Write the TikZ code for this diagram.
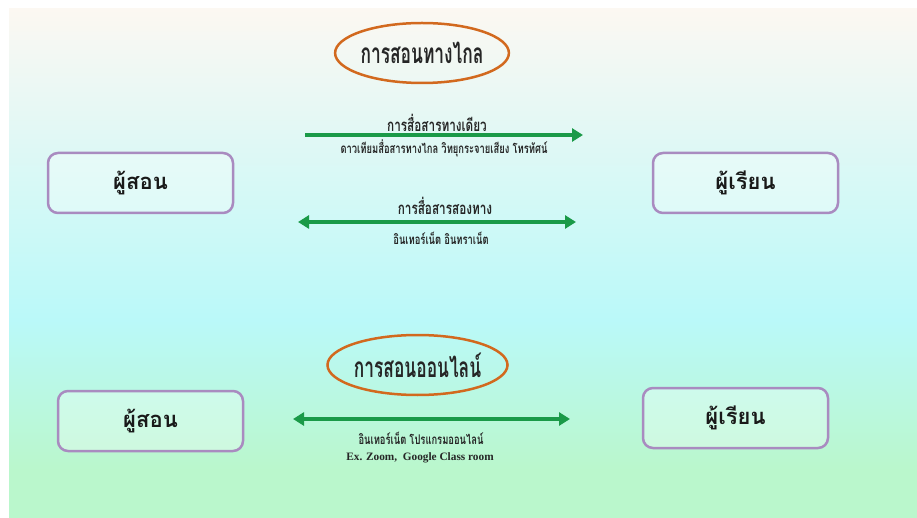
\documentclass[tikz,border=0pt]{standalone}
\usepackage{fontspec}
\usetikzlibrary{arrows.meta,shapes.geometric}
\setmainfont{Liberation Serif}
\newfontfamily\thai[Script=Thai]{Loma}
\newfontfamily\thaicond[Script=Thai,FakeStretch=0.70]{Loma}
\newfontfamily\thaicondx[Script=Thai,FakeStretch=0.62]{Loma}
\definecolor{bgtop}{HTML}{FCF8F2}
\definecolor{bgmid}{HTML}{BAF9F9}
\definecolor{bgbot}{HTML}{BAF7CC}
\definecolor{boxline}{HTML}{A98BC0}
\definecolor{ovalline}{HTML}{D2691E}
\definecolor{arrowgreen}{HTML}{1A9A48}
\tikzset{
  actor/.style={draw=boxline, line width=2.5pt, rounded corners=10pt, fill=white, fill opacity=0.3, text opacity=1, minimum width=185pt, minimum height=60pt, font=\thai\bfseries\fontsize{22}{24}\selectfont, text=black!90},
  oval/.style={ellipse, draw=ovalline, line width=2.5pt, minimum width=148pt, minimum height=60pt, inner sep=0pt, font=\thaicondx\bfseries\fontsize{28}{30}\selectfont, text=black!85},
  biglabel/.style={font=\thaicond\bfseries\fontsize{16.8}{18}\selectfont, text=black!85, inner sep=0pt},
  smalllabel/.style={font=\thaicond\bfseries\fontsize{13.4}{15}\selectfont, text=black!85, inner sep=0pt},
  conn/.style={draw=arrowgreen, line width=3.5pt, -{Triangle[length=11pt,width=13pt]}},
  conn2/.style={draw=arrowgreen, line width=3.5pt, {Triangle[length=11pt,width=13pt]}-{Triangle[length=11pt,width=13pt]}}
}
\begin{document}
\begin{tikzpicture}[x=1pt,y=-1pt]
\useasboundingbox (0,0) rectangle (917,518);
\fill[white] (0,0) rectangle (917,518);
\shade[top color=bgtop, bottom color=bgmid] (9,9) rectangle (917,320);
\shade[top color=bgmid, bottom color=bgbot] (9,319.5) rectangle (917,470);
\fill[bgbot] (9,469.5) rectangle (917,518);

\node[oval] (o1) at (422,53) {การสอนทางไกล};
\node[oval] (o2) at (417.5,365) {การสอนออนไลน์};

\node[actor] (t1) at (140.5,183) {ผู้สอน};
\node[actor] (s1) at (745.5,183) {ผู้เรียน};
\node[actor] (t2) at (150.5,421) {ผู้สอน};
\node[actor] (s2) at (735.5,418) {ผู้เรียน};

\coordinate (a1s) at (305,135);
\coordinate (a1e) at (583,135);
\coordinate (a2s) at (298,222);
\coordinate (a2e) at (576,222);
\coordinate (a3s) at (293,419);
\coordinate (a3e) at (570,419);
\draw[conn] (a1s) -- (a1e);
\draw[conn2] (a2s) -- (a2e);
\draw[conn2] (a3s) -- (a3e);

\node[biglabel] (l1) at (437,123) {การสื่อสารทางเดียว};
\node[smalllabel] (l1b) at (444,148) {ดาวเทียมสื่อสารทางไกล วิทยุกระจายเสียง โทรทัศน์};
\node[biglabel] (l2) at (445,206) {การสื่อสารสองทาง};
\node[smalllabel] (l2b) at (441,238) {อินเทอร์เน็ต อินทราเน็ต};
\node[smalllabel] (l3b) at (421,438) {อินเทอร์เน็ต โปรแกรมออนไลน์};
\node[font=\bfseries\fontsize{11.3}{13}\selectfont, text=black!85, inner sep=0pt] (l3c) at (420,457.5) {Ex. Zoom,\ \ Google Class room};
\end{tikzpicture}
\end{document}
